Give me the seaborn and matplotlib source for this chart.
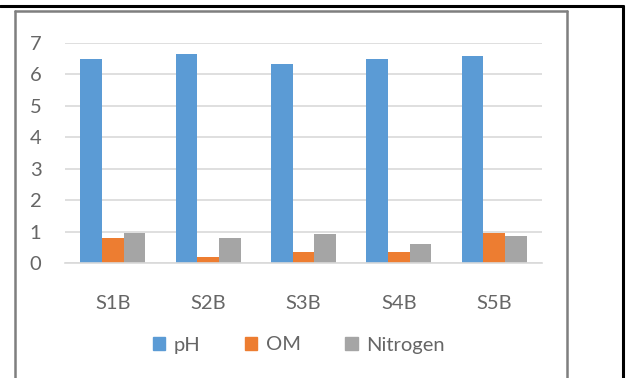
import matplotlib
matplotlib.use('Agg')
import matplotlib.pyplot as plt
import matplotlib.patches as mpatches
from matplotlib.lines import Line2D
import pandas as pd
import seaborn as sns

# values
samples = ['S1B', 'S2B', 'S3B', 'S4B', 'S5B']
ph = [6.48, 6.65, 6.34, 6.48, 6.59]
om = [0.79, 0.19, 0.36, 0.36, 0.97]
nitrogen = [0.97, 0.79, 0.92, 0.60, 0.85]
series = ['pH', 'OM', 'Nitrogen']
colors = ['#5B9BD5', '#ED7D31', '#A5A5A5']

df = pd.DataFrame({'Sample': samples * 3,
                   'Series': ['pH'] * 5 + ['OM'] * 5 + ['Nitrogen'] * 5,
                   'Value': ph + om + nitrogen})

sns.set_style('white')
plt.rcParams['font.family'] = ['Lato', 'DejaVu Sans']
text_col = '#666666'

W, H = 627, 378
fig = plt.figure(figsize=(W / 100, H / 100), dpi=100)
ax = fig.add_axes([65 / W, 1 - 263 / H, 477 / W, 220 / H])

sns.barplot(data=df, x='Sample', y='Value', hue='Series', hue_order=series,
            palette=colors, width=0.68, gap=0, saturation=1, ax=ax,
            legend=False, edgecolor='none')

ax.set_ylim(0, 7)
ax.set_yticks(range(0, 8))
ax.set_xlim(-0.5, 4.5)
ax.grid(axis='y', color='#D9D9D9', linewidth=1.2)
ax.set_axisbelow(True)
for s in ax.spines.values():
    s.set_visible(False)
ax.spines['bottom'].set_visible(True)
ax.spines['bottom'].set_color('#D9D9D9')
ax.spines['bottom'].set_linewidth(1.2)
ax.set_xlabel('')
ax.set_ylabel('')
ax.tick_params(axis='y', length=0, pad=17, labelsize=14.5, labelcolor=text_col)
ax.tick_params(axis='x', length=0, pad=23, labelsize=14.5, labelcolor=text_col)

handles = [mpatches.Patch(color=c, label=l) for c, l in zip(colors, series)]
fig.legend(handles=handles, loc='center', bbox_to_anchor=(299 / W, 1 - 345 / H),
           ncol=3, frameon=False, fontsize=14.5, labelcolor=text_col,
           handlelength=0.6, handleheight=0.6, handletextpad=0.45,
           columnspacing=2.2)

# chart border (gray) and outer black frame
fig.add_artist(Line2D([15 / W, 15 / W], [0, 1 - 11 / H], color='#7F7F7F', lw=1.8))
fig.add_artist(Line2D([15 / W, 567 / W], [1 - 11 / H, 1 - 11 / H], color='#7F7F7F', lw=1.8))
fig.add_artist(Line2D([567 / W, 567 / W], [0, 1 - 11 / H], color='#7F7F7F', lw=1.8))
fig.add_artist(Line2D([0, 623 / W], [1 - 6 / H, 1 - 6 / H], color='black', lw=2.2))
fig.add_artist(Line2D([623 / W, 623 / W], [0, 1 - 6 / H], color='black', lw=2.2))

fig.savefig('out.png', dpi=100)
